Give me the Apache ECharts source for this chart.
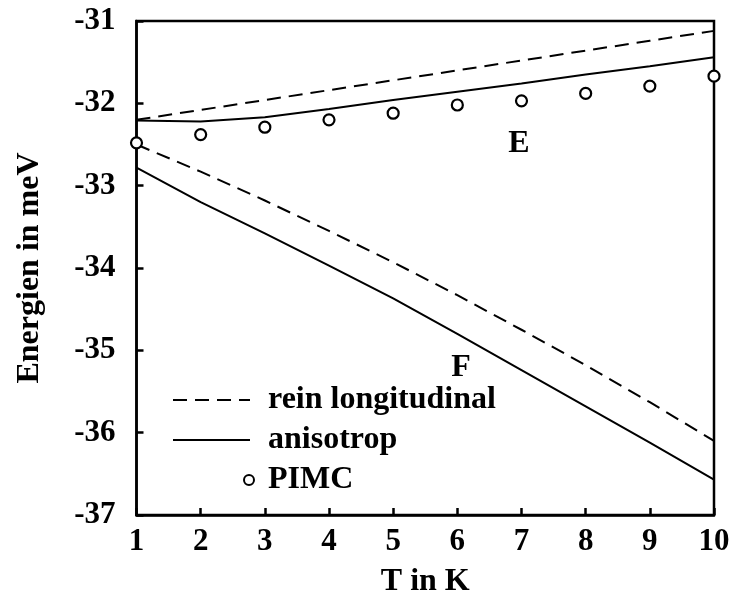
<!DOCTYPE html>
<html>
<head>
<meta charset="utf-8">
<script src="https://cdn.jsdelivr.net/npm/echarts@6/dist/echarts.min.js"></script>
<style>
  html, body { margin: 0; padding: 0; background: #fff; }
  #chart { width: 735px; height: 603px; }
</style>
</head>
<body>
<div id="chart"></div>
<script>
// Temperature grid (K)
const temps = [1, 2, 3, 4, 5, 6, 7, 8, 9, 10];

// Branch E (upper)
const eLongitudinal = [-32.20, -32.08, -31.96, -31.84, -31.72, -31.60, -31.48, -31.36, -31.24, -31.12];
const eAnisotrop    = [-32.21, -32.22, -32.17, -32.07, -31.96, -31.86, -31.76, -31.65, -31.55, -31.44];
const ePimc         = [-32.48, -32.38, -32.29, -32.20, -32.12, -32.02, -31.97, -31.88, -31.79, -31.67];

// Branch F (lower)
const fLongitudinal = [-32.50, -32.83, -33.18, -33.55, -33.93, -34.33, -34.75, -35.18, -35.63, -36.10];
const fAnisotrop    = [-32.78, -33.20, -33.58, -33.97, -34.37, -34.80, -35.24, -35.68, -36.12, -36.57];

const xTicks = [1, 10, 1];      // min, max, step
const yTicks = [-37, -31, 1];   // min, max, step

const FONT = '"Liberation Serif", "DejaVu Serif", serif';
const TXT = 32;   // titles, legend, branch labels
const TICK = 31;  // tick labels
const pairs = (ys) => temps.map((t, i) => [t, ys[i]]);

const dashed = { color: '#000', width: 2, type: [14, 8] };
const solid  = { color: '#000', width: 2, type: 'solid' };
const openCircle = { color: '#fff', borderColor: '#000', borderWidth: 2.2, opacity: 1 };

const chart = echarts.init(document.getElementById('chart'), null, { renderer: 'canvas' });

chart.setOption({
  animation: false,
  backgroundColor: '#fff',
  grid: {
    left: 136.5, right: 21, top: 21, bottom: 87.5,
    show: true, borderColor: '#000', borderWidth: 2.5, backgroundColor: 'transparent'
  },
  xAxis: {
    type: 'value', min: xTicks[0], max: xTicks[1], interval: xTicks[2],
    name: 'T in K', nameLocation: 'middle', nameGap: 51,
    nameTextStyle: { fontFamily: FONT, fontWeight: 'bold', fontSize: TXT, color: '#000' },
    axisLine: { lineStyle: { color: '#000', width: 2.5 } },
    axisTick: { inside: true, length: 7, lineStyle: { color: '#000', width: 2.5 } },
    axisLabel: { margin: 11, fontFamily: FONT, fontWeight: 'bold', fontSize: TICK, color: '#000' },
    splitLine: { show: false }
  },
  yAxis: {
    type: 'value', min: yTicks[0], max: yTicks[1], interval: yTicks[2],
    name: 'Energien in meV', nameLocation: 'middle', nameGap: 91,
    nameTextStyle: { fontFamily: FONT, fontWeight: 'bold', fontSize: TXT, color: '#000' },
    axisLine: { lineStyle: { color: '#000', width: 2.5 } },
    axisTick: { inside: true, length: 7, lineStyle: { color: '#000', width: 2.5 } },
    axisLabel: { margin: 21, fontFamily: FONT, fontWeight: 'bold', fontSize: TICK, color: '#000' },
    splitLine: { show: false }
  },
  legend: [
    {
      data: ['rein longitudinal', 'anisotrop'],
      orient: 'vertical', left: 172, top: 384, padding: 0,
      itemWidth: 77, itemHeight: 32, itemGap: 8,
      itemStyle: { opacity: 0 },
      textStyle: { fontFamily: FONT, fontWeight: 'bold', fontSize: TXT, color: '#000', padding: [0, 0, 0, 13] }
    },
    {
      data: ['PIMC'],
      orient: 'vertical', left: 243, top: 464, padding: 0,
      itemWidth: 10, itemHeight: 10,
      itemStyle: { color: '#fff', borderColor: '#000', borderWidth: 2, opacity: 1 },
      textStyle: { fontFamily: FONT, fontWeight: 'bold', fontSize: TXT, color: '#000', padding: [0, 0, 0, 9] }
    }
  ],
  series: [
    { name: 'rein longitudinal', type: 'line', data: pairs(eLongitudinal), symbol: 'none', lineStyle: dashed, itemStyle: { color: '#000' } },
    { name: 'anisotrop', type: 'line', data: pairs(eAnisotrop), symbol: 'none', lineStyle: solid, itemStyle: { color: '#000' } },
    { name: 'rein longitudinal', type: 'line', data: pairs(fLongitudinal), symbol: 'none', lineStyle: dashed, itemStyle: { color: '#000' } },
    { name: 'anisotrop', type: 'line', data: pairs(fAnisotrop), symbol: 'none', lineStyle: solid, itemStyle: { color: '#000' } },
    {
      name: 'PIMC', type: 'scatter', data: pairs(ePimc),
      symbol: 'circle', symbolSize: 11,
      itemStyle: openCircle, z: 5
    }
  ],
  graphic: [
    { type: 'text', x: 519, y: 144, style: { text: 'E', font: 'bold ' + TXT + 'px ' + FONT, fill: '#000', align: 'center', verticalAlign: 'middle' } },
    { type: 'text', x: 461, y: 368, style: { text: 'F', font: 'bold ' + TXT + 'px ' + FONT, fill: '#000', align: 'center', verticalAlign: 'middle' } }
  ]
});
</script>
</body>
</html>
